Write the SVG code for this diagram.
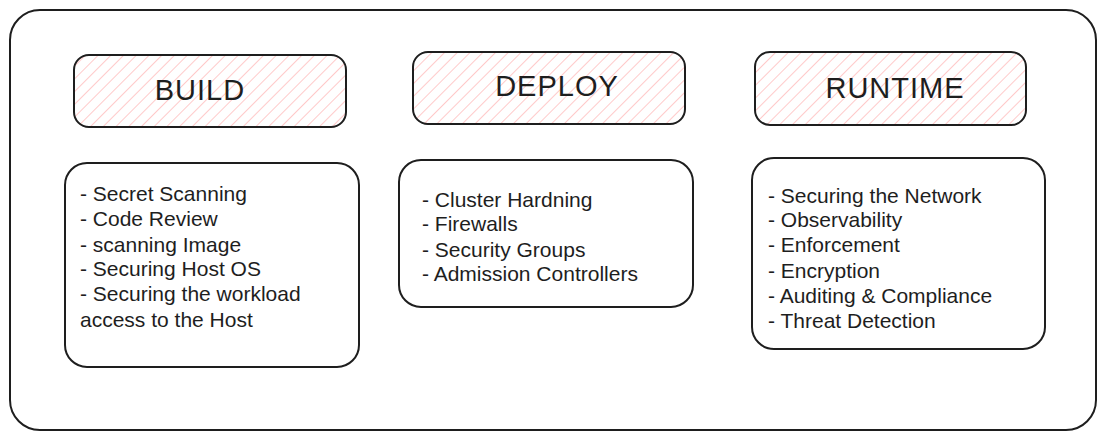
<svg xmlns="http://www.w3.org/2000/svg" width="1105" height="439" viewBox="0 0 1105 439">
<defs>
<pattern id="hatch" width="9" height="9" patternUnits="userSpaceOnUse" patternTransform="rotate(45)">
<line x1="0" y1="0" x2="0" y2="9" stroke="#ffb8b8" stroke-width="1.5"/>
</pattern>
</defs>
<style>
.frame{fill:#ffffff;stroke:#1e1e1e;stroke-width:2}
.head{fill:url(#hatch);stroke:#1e1e1e;stroke-width:2}
.box{fill:#ffffff;stroke:#1e1e1e;stroke-width:2}
.title{font-family:"Liberation Sans",sans-serif;font-size:29px;letter-spacing:1px;fill:#1e1e1e;text-anchor:middle;dominant-baseline:central}
.item{font-family:"Liberation Sans",sans-serif;font-size:21px;fill:#1e1e1e;dominant-baseline:central}
</style>
<rect width="1105" height="439" fill="#ffffff"/>
<g id="frame"><rect class="frame" x="10" y="10" width="1086" height="420" rx="30"/></g>
<g id="build">
<rect class="head" x="74" y="55" width="272" height="72" rx="15"/>
<text class="title" x="200" y="90">BUILD</text>
</g>
<g id="deploy">
<rect class="head" x="413" y="52" width="272" height="72" rx="15"/>
<text class="title" x="557" y="86">DEPLOY</text>
</g>
<g id="runtime">
<rect class="head" x="755" y="52" width="271" height="73" rx="15"/>
<text class="title" x="895" y="88">RUNTIME</text>
</g>
<g id="build-list">
<rect class="box" x="65" y="163" width="294" height="204" rx="22"/>
<text class="item" x="80" y="193">- Secret Scanning</text>
<text class="item" x="80" y="218">- Code Review</text>
<text class="item" x="80" y="244">- scanning Image</text>
<text class="item" x="80" y="268">- Securing Host OS</text>
<text class="item" x="80" y="293">- Securing the workload</text>
<text class="item" x="80" y="319">access to the Host</text>
</g>
<g id="deploy-list">
<rect class="box" x="399" y="160" width="294" height="147" rx="22"/>
<text class="item" x="422" y="199">- Cluster Hardning</text>
<text class="item" x="422" y="223">- Firewalls</text>
<text class="item" x="422" y="249">- Security Groups</text>
<text class="item" x="422" y="273">- Admission Controllers</text>
</g>
<g id="runtime-list">
<rect class="box" x="752" y="158" width="293" height="191" rx="22"/>
<text class="item" x="768" y="195">- Securing the Network</text>
<text class="item" x="768" y="219">- Observability</text>
<text class="item" x="768" y="244">- Enforcement</text>
<text class="item" x="768" y="270">- Encryption</text>
<text class="item" x="768" y="295">- Auditing &amp; Compliance</text>
<text class="item" x="768" y="320">- Threat Detection</text>
</g>
<g id="connectors"/>
</svg>
